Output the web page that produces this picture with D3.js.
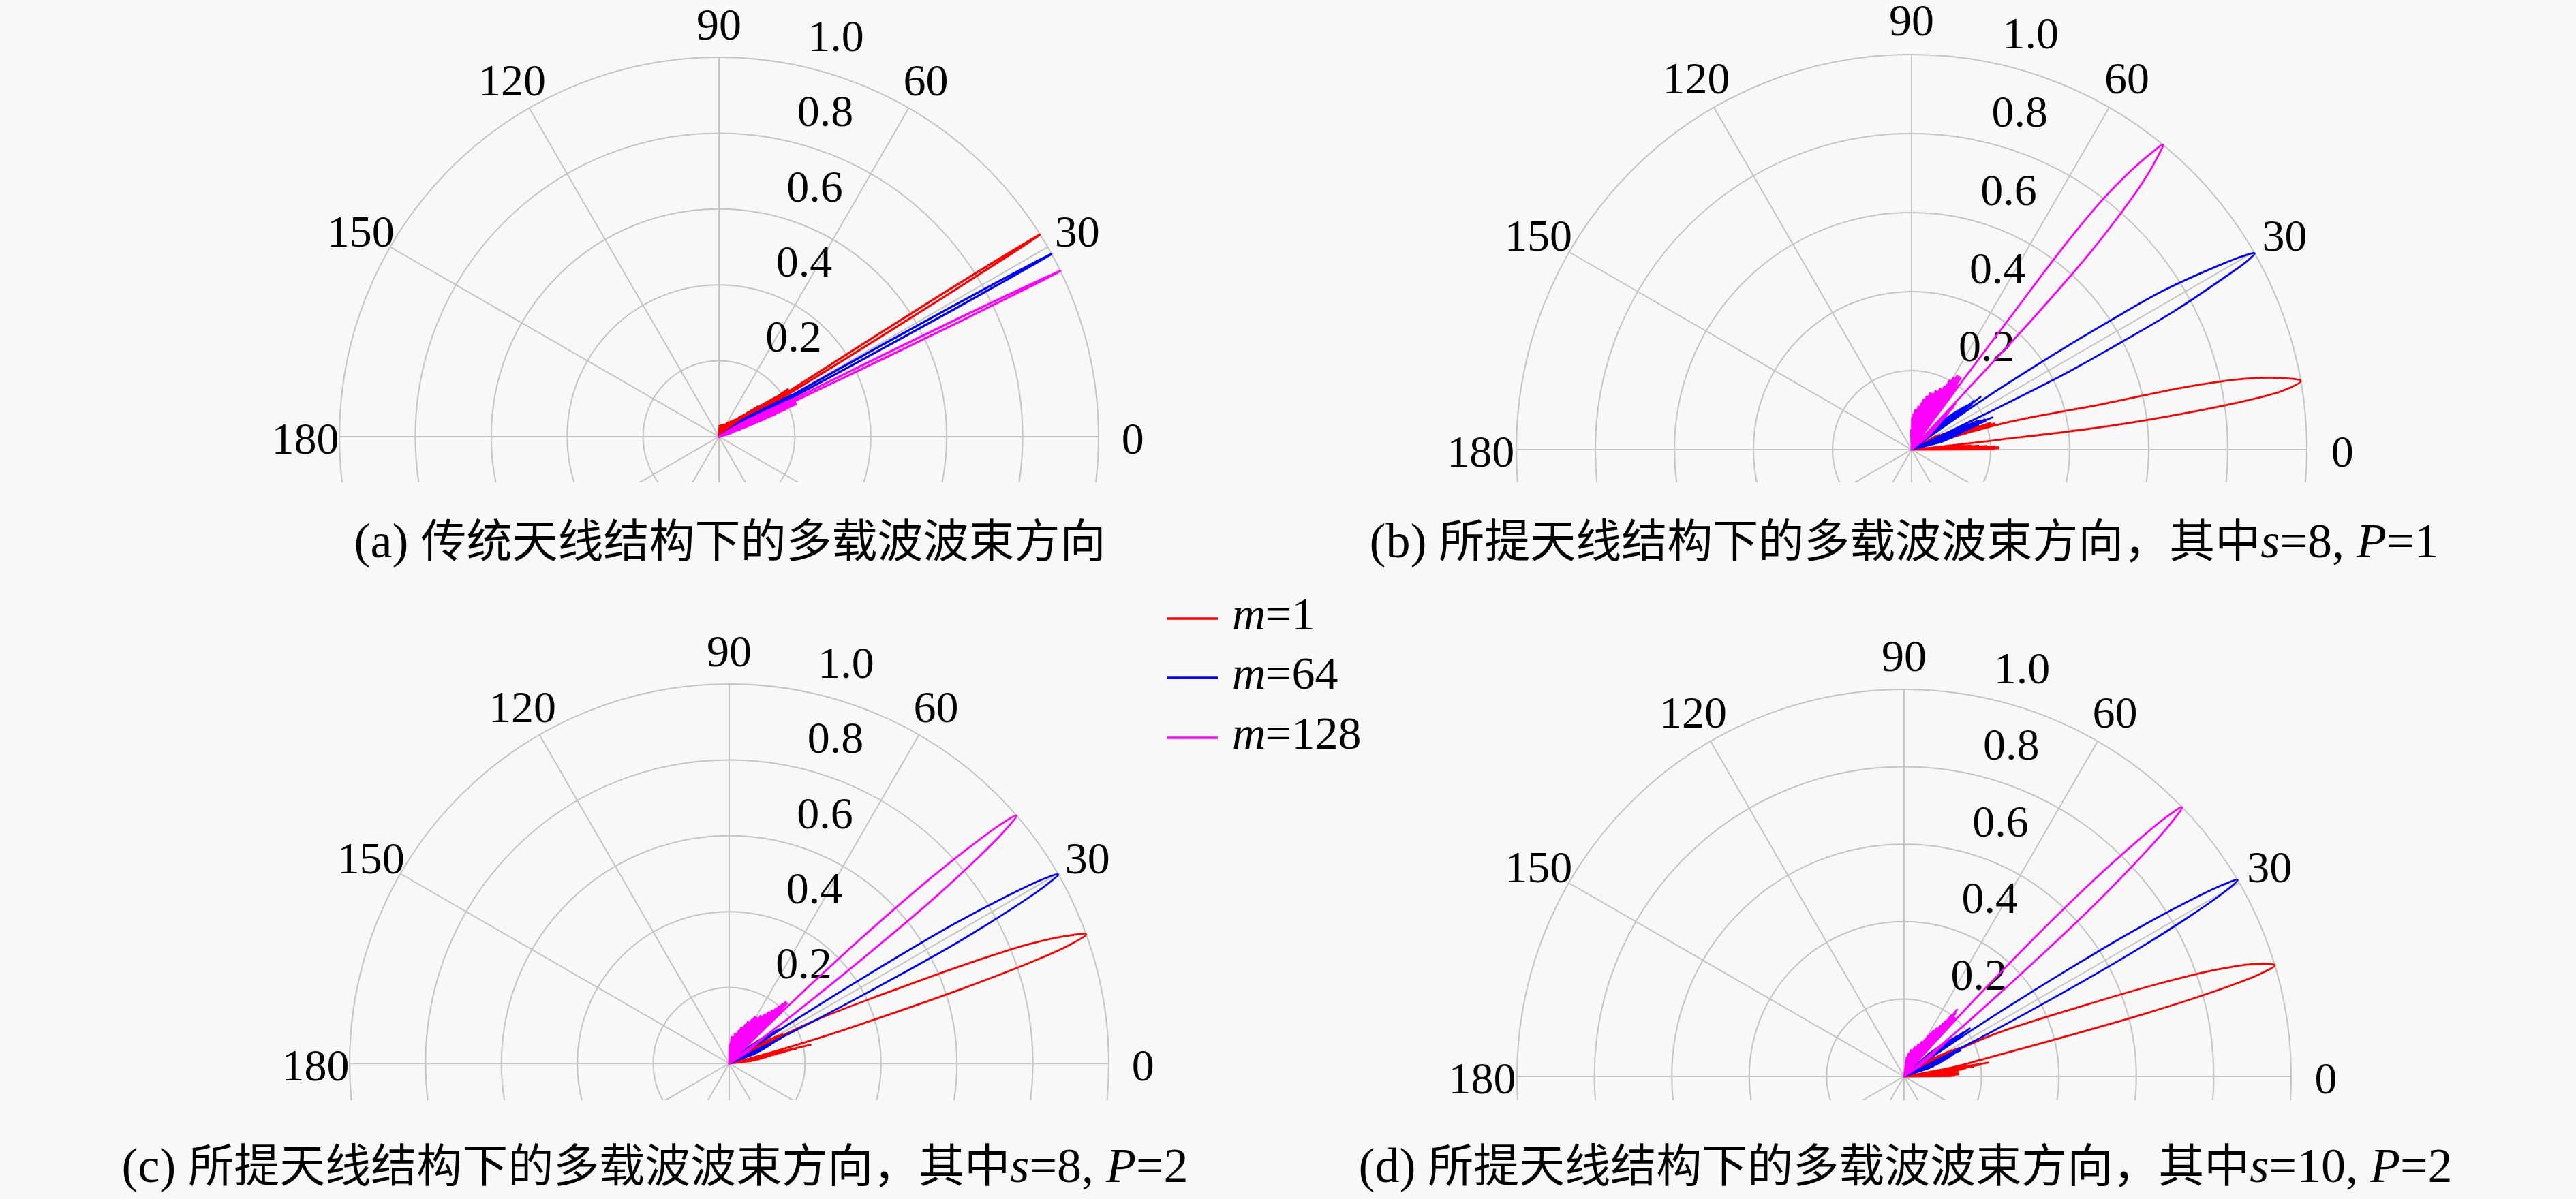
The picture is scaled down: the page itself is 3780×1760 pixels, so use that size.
<!DOCTYPE html>
<html>
<head>
<meta charset="utf-8">
<script src="https://cdn.jsdelivr.net/npm/d3@7"></script>
<style>
html, body { margin: 0; padding: 0; background: #f8f8f8; }
svg { display: block; }
</style>
</head>
<body>
<svg id="fig" width="3780" height="1760"></svg>
<script>
// ---- tick labels / legend ----
var angleTicks = [0, 30, 60, 90, 120, 150, 180];
var spokeAngles = [0, 30, 60, 90, 120, 150, 180, 210, 240, 270, 300, 330];
var radialTicks = [0.2, 0.4, 0.6, 0.8, 1.0];
var seriesLabels = ["1", "64", "128"];
var seriesColors = ["#ff0000", "#0000ff", "#ff00ff"];

// ---- beam patterns, [angle in degrees, normalised gain] ----
// (a) conventional array
var aRed = [[27.6,0],[27.8,0.08],[28.0,0],[28.2,0.1],[28.4,0],[28.6,0.11],[28.8,0],[29.0,0.12],[29.2,0],
  [29.4,0.13],[29.6,0],[29.8,0.14],[30.0,0],[30.2,0.15],[30.4,0],[30.6,0.17],[30.8,0],[31.0,0.2],[31.2,0],
  [31.45,0.05],[31.5,0.22],[31.7,0.5],[31.85,0.7],[32.0,0.85],[32.1,0.95],[32.2,1],[32.3,0.95],[32.45,0.85],
  [32.6,0.7],[32.75,0.5],[32.95,0.22],[33.0,0.05],[33.1,0],
  [33.3,0.22],[33.5,0],[33.7,0.2],[33.9,0],[34.1,0.21],[34.3,0],[34.5,0.22],[34.7,0],[34.9,0.18],[35.1,0],
  [35.3,0.17],[35.5,0],[35.7,0.16],[35.9,0],[36.1,0.15],[36.3,0],[36.6,0.14],[36.9,0],[37.2,0.13],[37.5,0],
  [37.8,0.13],[38.1,0],[38.4,0.12],[38.7,0],[39.0,0.11],[39.4,0],[39.8,0.1],[40.2,0],[40.6,0.09],[41.0,0],
  [41.5,0.085],[42.0,0],[42.5,0.08],[43.0,0],[43.5,0.075],[44.0,0],[45,0.065],[46,0],[47,0.06],[48,0],
  [49.5,0.055],[51,0],[52.5,0.05],[54,0],[56,0.045],[58,0],[60,0.04],[62,0],[65,0.035],[68,0],[71,0.033],
  [74,0],[77,0.03],[80,0],[83,0.03],[86,0],[88,0.028],[90,0.027]];
var aBlue = [[24.8,0],[25.0,0.1],[25.2,0],[25.4,0.11],[25.6,0],[25.8,0.12],[26.0,0],[26.2,0.13],[26.4,0],
  [26.6,0.14],[26.8,0],[27.0,0.15],[27.2,0],[27.4,0.17],[27.6,0],[27.8,0.2],[27.95,0],
  [28.05,0.05],[28.1,0.22],[28.3,0.5],[28.45,0.7],[28.6,0.85],[28.7,0.95],[28.8,1],[28.9,0.95],[29.05,0.85],
  [29.2,0.7],[29.35,0.5],[29.55,0.22],[29.6,0.05],[29.7,0],
  [29.9,0.22],[30.1,0],[30.3,0.2],[30.5,0],[30.7,0.18],[30.9,0],[31.1,0.16],[31.3,0],[31.5,0.15],[31.7,0],
  [31.9,0.14],[32.1,0],[32.3,0.13],[32.5,0],[32.8,0.12],[33.1,0],[33.4,0.11],[33.7,0],[34.0,0.1],[34.3,0],
  [34.7,0.09],[35.1,0],[35.5,0.08],[36.0,0]];
var aMag = [[15.0,0],[16.0,0.03],[17.0,0],[17.6,0.035],[18.2,0],[18.6,0.04],[19.0,0],[19.3,0.06],[19.6,0],
  [19.9,0.08],[20.2,0],[20.5,0.1],[20.8,0],[21.1,0.13],[21.4,0],[21.7,0.16],[22.0,0],[22.3,0.19],[22.6,0],
  [22.9,0.22],[23.2,0],[23.5,0.2],[23.8,0],[24.1,0.22],[24.4,0],[24.7,0.2],[25.0,0],
  [25.15,0.05],[25.2,0.22],[25.4,0.5],[25.55,0.7],[25.7,0.85],[25.8,0.95],[25.9,1],[26.0,0.95],[26.15,0.85],
  [26.3,0.7],[26.45,0.5],[26.65,0.22],[26.7,0.05],[26.8,0],
  [27.0,0.22],[27.2,0],[27.4,0.2],[27.6,0],[27.8,0.17],[28.0,0],[28.2,0.15],[28.4,0],[28.6,0.13],[28.8,0],
  [29.0,0.12],[29.2,0],[29.5,0.1],[29.8,0],[30.1,0.09],[30.4,0],[30.8,0.07],[31.2,0],[31.7,0.05],[32.2,0]];

// (b) proposed array, s=8, P=1
var bRed = [[0,0],[0.3,0.21],[0.6,0],[0.9,0.22],[1.2,0],[1.5,0.22],[1.8,0],[2.1,0.21],[2.4,0],[2.7,0.19],
  [3.0,0],[3.3,0.17],[3.6,0],[3.9,0.15],[4.2,0],[4.5,0.13],[4.8,0],[5.1,0.1],[5.3,0],
  [5.5,0.05],[6.4,0.22],[6.8,0.5],[7.6,0.7],[8.3,0.85],[9.0,0.95],[10.0,1],[11.0,0.95],[12.1,0.85],
  [12.9,0.7],[13.4,0.5],[15.0,0.32],[16.2,0.22],[16.9,0.1],[17.2,0],
  [17.5,0.22],[17.8,0],[18.1,0.2],[18.4,0],[18.7,0.21],[19.0,0],[19.3,0.18],[19.6,0],[19.9,0.17],[20.2,0],
  [20.5,0.16],[20.8,0],[21.1,0.15],[21.4,0],[21.7,0.15],[22.0,0],[22.3,0.14],[22.6,0],[22.9,0.13],[23.2,0],
  [23.6,0.12],[24.0,0],[24.4,0.11],[24.8,0],[25.3,0.1],[25.8,0],[26.4,0.09],[27.0,0],[27.7,0.08],[28.4,0],
  [29.2,0.07],[30.0,0]];
var bBlue = [[14.0,0],[14.4,0.08],[14.8,0],[15.2,0.09],[15.6,0],[16.0,0.1],[16.4,0],[16.8,0.11],[17.2,0],
  [17.6,0.12],[18.0,0],[18.4,0.13],[18.8,0],[19.2,0.14],[19.6,0],[19.9,0.16],[20.2,0],[20.5,0.18],[20.8,0],
  [21.1,0.2],[21.4,0],[21.7,0.22],[22.0,0],[22.3,0.2],[22.6,0],[22.9,0.19],[23.2,0],[23.5,0.18],[23.8,0],
  [24.1,0.15],[24.4,0],[24.65,0.12],[24.8,0],
  [24.9,0.05],[25.8,0.22],[26.3,0.43],[27.0,0.57],[27.8,0.75],[28.8,0.9],[29.3,0.97],[29.8,1],[30.3,0.97],
  [31.0,0.9],[32.3,0.75],[33.0,0.6],[33.8,0.43],[35.0,0.22],[35.6,0.05],[35.9,0],
  [36.2,0.16],[36.5,0],[36.8,0.19],[37.1,0],[37.4,0.22],[37.7,0],[38.0,0.2],[38.3,0],[38.6,0.18],[38.9,0],
  [39.2,0.17],[39.5,0],[39.8,0.16],[40.1,0],[40.4,0.15],[40.7,0],[41.0,0.14],[41.3,0],[41.6,0.13],[41.9,0],
  [42.2,0.12],[42.5,0],[42.8,0.12],[43.1,0],[43.4,0.11],[43.7,0],[44.0,0.1],[44.3,0],[44.7,0.09],[45.1,0],
  [45.6,0.08],[46.1,0]];
var bMag = [[38.0,0],[38.5,0.05],[39.0,0],[39.5,0.06],[40.0,0],[40.5,0.07],[41.0,0],[41.4,0.08],[41.8,0],
  [42.2,0.09],[42.6,0],[43.0,0.1],[43.4,0],[43.8,0.12],[44.2,0],[44.6,0.13],[45.0,0],[45.4,0.15],[45.8,0],
  [46.2,0.16],[46.6,0],[46.85,0.12],[46.95,0],
  [47.0,0.05],[47.1,0.2],[47.2,0.45],[47.8,0.67],[48.5,0.8],[49.2,0.9],[50.0,0.97],[50.5,1],[51.0,0.97],
  [51.8,0.9],[52.6,0.8],[53.1,0.67],[53.3,0.43],[53.5,0.2],[53.6,0.05],[53.8,0],
  [54.15,0.2],[54.5,0],[54.85,0.18],[55.2,0],[55.55,0.22],[55.9,0],[56.25,0.19],[56.6,0],[56.95,0.22],[57.3,0],
  [57.65,0.2],[58.0,0],[58.35,0.22],[58.7,0],[59.05,0.19],[59.4,0],[59.75,0.21],[60.1,0],[60.45,0.19],[60.8,0],
  [61.15,0.2],[61.5,0],[61.85,0.18],[62.2,0],[62.6,0.18],[63.0,0],[63.4,0.17],[63.8,0],[64.2,0.17],[64.6,0],
  [65.0,0.17],[65.4,0],[65.8,0.16],[66.2,0],[66.7,0.16],[67.2,0],[67.7,0.16],[68.2,0],[68.7,0.15],[69.2,0],
  [69.7,0.15],[70.2,0],[70.7,0.15],[71.2,0],[71.8,0.15],[72.4,0],[73.0,0.14],[73.6,0],[74.2,0.14],[74.8,0],
  [75.4,0.13],[76.0,0],[76.7,0.13],[77.4,0],[78.1,0.12],[78.8,0],[79.6,0.11],[80.4,0],[81.2,0.11],[82.0,0],
  [83.0,0.1],[84.0,0],[85.0,0.1],[86.0,0],[87.0,0.09],[88.0,0],[89.0,0.08],[90.0,0],[91.5,0.05],[93.0,0]];

// (c) proposed array, s=8, P=2
var cRed = [[6.0,0],[6.4,0.06],[6.8,0],[7.2,0.07],[7.6,0],[8.0,0.08],[8.4,0],[8.8,0.09],[9.2,0],[9.6,0.1],
  [10.0,0],[10.4,0.11],[10.8,0],[11.1,0.13],[11.4,0],[11.7,0.15],[12.0,0],[12.3,0.18],[12.6,0],[12.9,0.22],[13.2,0],
  [13.5,0.05],[15.8,0.24],[17.0,0.44],[17.8,0.65],[18.6,0.85],[19.2,0.95],[19.9,1],[20.7,0.95],[21.7,0.85],
  [22.6,0.7],[23.8,0.5],[26.5,0.26],[28.0,0.12],[28.5,0],
  [28.8,0.16],[29.1,0],[29.4,0.15],[29.7,0],[30.0,0.14],[30.3,0],[30.6,0.13],[30.9,0],[31.2,0.12],[31.5,0],
  [31.8,0.11],[32.1,0],[32.4,0.1],[32.7,0],[33.1,0.09],[33.5,0],[34.0,0.08],[34.5,0]];
var cBlue = [[20.0,0],[20.4,0.07],[20.8,0],[21.2,0.08],[21.6,0],[22.0,0.09],[22.4,0],[22.8,0.1],[23.2,0],
  [23.6,0.11],[24.0,0],[24.4,0.12],[24.8,0],[25.1,0.13],[25.4,0],[25.7,0.15],[26.1,0],
  [26.4,0.05],[26.5,0.22],[27.4,0.5],[28.0,0.7],[28.7,0.85],[29.3,0.95],[29.9,1],[30.5,0.95],[31.1,0.85],
  [31.8,0.7],[32.4,0.5],[33.3,0.22],[33.9,0.05],[34.1,0],
  [34.4,0.16],[34.7,0],[35.0,0.15],[35.3,0],[35.6,0.14],[35.9,0],[36.2,0.13],[36.5,0],[36.8,0.12],[37.1,0],
  [37.4,0.11],[37.7,0],[38.0,0.1],[38.3,0],[38.6,0.09],[38.9,0],[39.3,0.08],[39.7,0],[40.2,0.07],[40.7,0]];
var cMag = [[31.0,0],[31.5,0.05],[32.0,0],[32.5,0.06],[33.0,0],[33.5,0.07],[34.0,0],[34.4,0.08],[34.8,0],
  [35.2,0.09],[35.6,0],[36.0,0.11],[36.4,0],[36.7,0.14],[37.0,0],
  [37.2,0.05],[37.4,0.22],[38.3,0.5],[38.9,0.7],[39.6,0.85],[40.2,0.95],[40.8,1],[41.4,0.95],[42.0,0.85],
  [42.7,0.7],[43.4,0.5],[44.3,0.22],[44.8,0.05],[45.0,0],
  [45.35,0.2],[45.7,0],[46.05,0.22],[46.4,0],[46.75,0.2],[47.1,0],[47.45,0.22],[47.8,0],[48.15,0.21],[48.5,0],
  [48.85,0.2],[49.2,0],[49.55,0.19],[49.9,0],[50.25,0.18],[50.6,0],[50.95,0.18],[51.3,0],[51.65,0.17],[52.0,0],
  [52.4,0.17],[52.8,0],[53.2,0.16],[53.6,0],[54.0,0.16],[54.4,0],[54.8,0.15],[55.2,0],[55.7,0.15],[56.2,0],
  [56.7,0.15],[57.2,0],[57.7,0.14],[58.2,0],[58.8,0.14],[59.4,0],[60.0,0.14],[60.6,0],[61.3,0.14],[62.0,0],
  [62.7,0.13],[63.4,0],[64.2,0.12],[65.0,0],[65.8,0.12],[66.6,0],[67.5,0.11],[68.4,0],[69.4,0.1],[70.4,0],
  [71.5,0.1],[72.6,0],[73.8,0.09],[75.0,0],[76.3,0.08],[77.6,0],[79.0,0.08],[80.4,0],[82.0,0.07],[83.6,0],
  [85.2,0.07],[86.8,0],[88.5,0.05],[90.0,0]];

// (d) proposed array, s=10, P=2
var dRed = [[0,0],[0.3,0.12],[0.6,0],[0.9,0.13],[1.2,0],[1.5,0.13],[1.8,0],[2.1,0.14],[2.4,0],[2.7,0.13],
  [3.0,0],[3.3,0.14],[3.6,0],[3.9,0.13],[4.2,0],[4.5,0.13],[4.8,0],[5.1,0.13],[5.4,0],[5.7,0.14],[6.0,0],
  [6.3,0.14],[6.6,0],[6.9,0.15],[7.2,0],[7.5,0.16],[7.8,0],[8.1,0.18],[8.4,0],[8.7,0.2],[9.0,0],[9.3,0.22],[9.7,0],
  [10.0,0.05],[10.6,0.13],[12.7,0.24],[13.9,0.44],[14.6,0.65],[15.4,0.85],[16.0,0.95],[16.7,1],[17.8,0.95],
  [18.9,0.85],[20.0,0.7],[21.5,0.5],[25.0,0.26],[26.5,0.12],[27.0,0],
  [27.3,0.16],[27.6,0],[27.9,0.15],[28.2,0],[28.5,0.14],[28.8,0],[29.1,0.13],[29.4,0],[29.7,0.12],[30.0,0],
  [30.3,0.11],[30.6,0],[30.9,0.1],[31.2,0],[31.6,0.09],[32.0,0],[32.5,0.08],[33.0,0]];
var dBlue = [[18.0,0],[18.4,0.07],[18.8,0],[19.2,0.08],[19.6,0],[20.0,0.09],[20.4,0],[20.8,0.1],[21.2,0],
  [21.6,0.11],[22.0,0],[22.4,0.12],[22.8,0],[23.2,0.13],[23.6,0],[24.0,0.14],[24.4,0],[24.8,0.16],[25.2,0],
  [25.5,0.14],[25.8,0],
  [26.0,0.05],[26.8,0.22],[27.9,0.5],[28.6,0.7],[29.3,0.85],[29.9,0.95],[30.5,1],[31.1,0.95],[31.7,0.85],
  [32.4,0.7],[33.1,0.5],[34.3,0.22],[35.0,0.05],[35.2,0],
  [35.5,0.18],[35.8,0],[36.1,0.21],[36.4,0],[36.7,0.19],[37.0,0],[37.3,0.17],[37.6,0],[37.9,0.16],[38.2,0],
  [38.5,0.15],[38.8,0],[39.1,0.14],[39.4,0],[39.7,0.13],[40.0,0],[40.3,0.12],[40.6,0],[40.9,0.11],[41.2,0],
  [41.6,0.1],[42.0,0],[42.5,0.09],[43.0,0]];
var dMag = [[33.0,0],[33.4,0.05],[33.8,0],[34.2,0.06],[34.6,0],[35.0,0.07],[35.4,0],[35.8,0.08],[36.2,0],
  [36.6,0.09],[37.0,0],[37.4,0.1],[37.8,0],[38.1,0.11],[38.4,0],[38.7,0.13],[39.0,0],[39.3,0.15],[39.7,0],
  [40.0,0.05],[40.5,0.22],[41.5,0.5],[42.2,0.7],[42.9,0.85],[43.5,0.95],[44.1,1],[44.7,0.95],[45.3,0.85],
  [46.0,0.7],[46.7,0.5],[47.6,0.22],[48.2,0.05],[48.4,0],
  [48.75,0.2],[49.1,0],[49.45,0.18],[49.8,0],[50.15,0.2],[50.5,0],[50.85,0.21],[51.2,0],[51.55,0.22],[51.9,0],
  [52.25,0.2],[52.6,0],[52.95,0.18],[53.3,0],[53.65,0.17],[54.0,0],[54.35,0.16],[54.7,0],[55.05,0.15],[55.4,0],
  [55.8,0.15],[56.2,0],[56.6,0.14],[57.0,0],[57.4,0.14],[57.8,0],[58.3,0.13],[58.8,0],[59.3,0.12],[59.8,0],
  [60.4,0.11],[61.0,0],[61.6,0.1],[62.2,0],[62.9,0.1],[63.6,0],[64.4,0.09],[65.2,0],[66.1,0.09],[67.0,0],
  [68.0,0.08],[69.0,0],[70.2,0.08],[71.4,0],[72.7,0.07],[74.0,0],[75.5,0.07],[77.0,0],[78.5,0.06],[80.0,0],
  [82.0,0.05],[84.0,0]];

// ---- captions: [text, style] ----
var captionA = [["(a) ", "rm"], ["传统天线结构下的多载波波束方向", "cjk"]];
var captionB = [["(b) ", "rm"], ["所提天线结构下的多载波波束方向，其中", "cjk"], ["s", "it"], ["=8, ", "rm"], ["P", "it"], ["=1", "rm"]];
var captionC = [["(c) ", "rm"], ["所提天线结构下的多载波波束方向，其中", "cjk"], ["s", "it"], ["=8, ", "rm"], ["P", "it"], ["=2", "rm"]];
var captionD = [["(d) ", "rm"], ["所提天线结构下的多载波波束方向，其中", "cjk"], ["s", "it"], ["=10, ", "rm"], ["P", "it"], ["=2", "rm"]];

// ---- layout ----
var panels = [
  {id: "a", cx: 1055, cy: 641, R: 557, clipY: 708, sw: 3.2, capX: 1071, capY: 818, caption: captionA, curves: [aRed, aBlue, aMag]},
  {id: "b", cx: 2805, cy: 660, R: 580, clipY: 708, sw: 2.8, capX: 2794, capY: 818, caption: captionB, curves: [bRed, bBlue, bMag]},
  {id: "c", cx: 1070, cy: 1561, R: 557, clipY: 1615, sw: 2.8, capX: 961, capY: 1735, caption: captionC, curves: [cRed, cBlue, cMag]},
  {id: "d", cx: 2794, cy: 1580, R: 568, clipY: 1615, sw: 2.8, capX: 2796, capY: 1735, caption: captionD, curves: [dRed, dBlue, dMag]}
];

var serif = "'Liberation Serif', 'Times New Roman', serif";
var cjk = "'Noto Sans CJK SC', 'Noto Sans CJK JP', sans-serif";
var gridColor = "#c4c4c4";
var fontSize = 66;

var svg = d3.select("#fig");
svg.append("rect").attr("width", 3780).attr("height", 1760).attr("fill", "#f8f8f8");
var defs = svg.append("defs");

function drawPanel(p) {
  var r = d3.scaleLinear().domain([0, 1]).range([0, p.R]);
  // maths angle (ccw from east, degrees) -> d3 radial angle (cw from north, radians)
  var a = d3.scaleLinear().domain([0, 360]).range([Math.PI / 2, Math.PI / 2 - 2 * Math.PI]);

  var g = svg.append("g").attr("transform", "translate(" + p.cx + "," + p.cy + ")");

  defs.append("clipPath").attr("id", "clip-" + p.id)
    .append("rect")
    .attr("x", -p.R - 100).attr("y", -p.R - 100)
    .attr("width", 2 * p.R + 200).attr("height", p.R + 100 + (p.clipY - p.cy));

  var grid = g.append("g").attr("clip-path", "url(#clip-" + p.id + ")");
  grid.selectAll("circle").data(radialTicks).join("circle")
    .attr("r", function(d) { return r(d); })
    .attr("fill", "none").attr("stroke", gridColor).attr("stroke-width", 2);
  grid.selectAll("line").data(spokeAngles).join("line")
    .attr("x1", 0).attr("y1", 0)
    .attr("x2", function(d) { return d3.pointRadial(a(d), r(1))[0]; })
    .attr("y2", function(d) { return d3.pointRadial(a(d), r(1))[1]; })
    .attr("stroke", gridColor).attr("stroke-width", 2);

  // angle labels
  g.selectAll("text.ang").data(angleTicks).join("text").attr("class", "ang")
    .attr("x", function(d) { return d3.pointRadial(a(d), r(1.09))[0]; })
    .attr("y", function(d) { return d3.pointRadial(a(d), r(1.09))[1] + 2; })
    .attr("text-anchor", "middle").attr("dominant-baseline", "central")
    .attr("font-family", serif).attr("font-size", fontSize).attr("fill", "#000")
    .text(function(d) { return d; });

  // radial labels along 82 degrees
  g.selectAll("text.rad").data(radialTicks).join("text").attr("class", "rad")
    .attr("x", function(d) { return d3.pointRadial(a(82), r(d + 0.01))[0] + 52; })
    .attr("y", function(d) { return d3.pointRadial(a(82), r(d + 0.01))[1] - 9; })
    .attr("font-family", serif).attr("font-size", fontSize).attr("fill", "#000")
    .text(function(d) { return d3.format(".1f")(d); });

  var line = d3.lineRadial()
    .angle(function(d) { return a(d[0]); })
    .radius(function(d) { return r(d[1]); })
    .curve(d3.curveCatmullRom.alpha(0.5));

  g.selectAll("path.beam").data(p.curves).join("path").attr("class", "beam")
    .attr("d", line)
    .attr("fill", "none")
    .attr("stroke", function(d, i) { return seriesColors[i]; })
    .attr("stroke-width", p.sw)
    .attr("stroke-linejoin", "round");

  // caption
  var cap = svg.append("text")
    .attr("x", p.capX).attr("y", p.capY)
    .attr("text-anchor", "middle").attr("fill", "#000");
  p.caption.forEach(function(part) {
    cap.append("tspan")
      .attr("font-family", part[1] === "cjk" ? cjk : serif)
      .attr("font-style", part[1] === "it" ? "italic" : "normal")
      .attr("font-size", part[1] === "cjk" ? 67 : 72)
      .text(part[0]);
  });
}

panels.forEach(drawPanel);

// legend
var legendY = d3.scaleOrdinal().domain(seriesLabels).range([908, 995, 1083]);
var legend = svg.append("g");
legend.selectAll("line").data(seriesLabels).join("line")
  .attr("x1", 1712).attr("x2", 1787)
  .attr("y1", function(d) { return legendY(d); }).attr("y2", function(d) { return legendY(d); })
  .attr("stroke", function(d, i) { return seriesColors[i]; }).attr("stroke-width", 3.5);
var lt = legend.selectAll("text").data(seriesLabels).join("text")
  .attr("x", 1808).attr("y", function(d) { return legendY(d) + 16; })
  .attr("font-family", serif).attr("font-size", 68).attr("fill", "#000");
lt.append("tspan").attr("font-style", "italic").text("m");
lt.append("tspan").text(function(d) { return "=" + d; });
</script>
</body>
</html>
